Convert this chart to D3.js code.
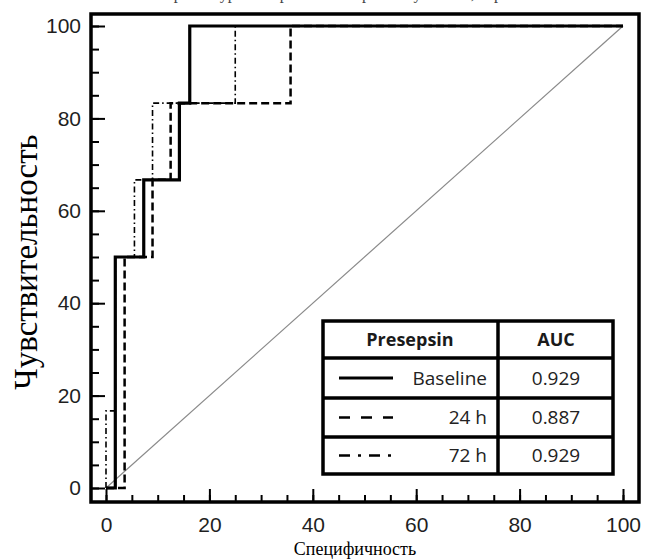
<!DOCTYPE html>
<html>
<head>
<meta charset="utf-8">
<script src="https://cdn.jsdelivr.net/npm/d3@7"></script>
<style>
  body { margin: 0; background: #fff; }
  svg { display: block; }
</style>
</head>
<body>
<svg id="chart"></svg>
<script>
// ROC data (x = 100 - specificity, y = sensitivity), step corners
var baselineX = [0, 1.8, 7.3, 14.2, 16.2, 100];
var baselineY = [0, 50, 66.7, 83.3, 100, 100];
var h24X = [0, 3.6, 9.0, 12.5, 35.7, 100];
var h24Y = [0, 50, 66.7, 83.3, 100, 100];
var h72X = [0, 0, 1.8, 5.5, 9.0, 25, 100];
var h72Y = [0, 16.7, 50, 66.7, 83.3, 100, 100];

var seriesNames = ["Baseline", "24 h", "72 h"];
var aucValues = ["0.929", "0.887", "0.929"];
var majorTicks = [0, 20, 40, 60, 80, 100];
var minorTicks = d3.range(0, 101, 5);

function init() {
    var width = 645, height = 559;
    var svg = d3.select("#chart")
        .attr("width", width)
        .attr("height", height);

    // frame box
    var frame = {left: 91, right: 639, top: 14, bottom: 502};

    // scales
    var x = d3.scaleLinear().domain([0, 100]).range([106, 623]);
    var y = d3.scaleLinear().domain([0, 100]).range([488, 26]);

    // caption above, cropped by the top edge in the source picture
    svg.append("text")
        .attr("x", 360)
        .attr("y", -1)
        .attr("text-anchor", "middle")
        .style("font-family", "'Liberation Serif', serif")
        .style("font-size", "16px")
        .style("fill", "#444")
        .text("ROC-кривые уровня пресепсина при поступлении, через 24 ч и 72 ч");

    // minor ticks
    svg.append("g")
        .attr("transform", "translate(0," + frame.bottom + ")")
        .call(d3.axisBottom(x).tickValues(minorTicks).tickSize(-7).tickFormat(""))
        .call(function(g) { g.select(".domain").remove(); })
        .selectAll("line").attr("stroke", "#000").attr("stroke-width", 2);
    svg.append("g")
        .attr("transform", "translate(" + frame.left + ",0)")
        .call(d3.axisLeft(y).tickValues(minorTicks).tickSize(-8).tickFormat(""))
        .call(function(g) { g.select(".domain").remove(); })
        .selectAll("line").attr("stroke", "#000").attr("stroke-width", 2);

    // major ticks + labels
    var xAxis = svg.append("g")
        .attr("transform", "translate(0," + frame.bottom + ")")
        .call(d3.axisBottom(x).tickValues(majorTicks).tickSize(-13).tickPadding(15));
    xAxis.select(".domain").remove();
    xAxis.selectAll("line").attr("stroke", "#000").attr("stroke-width", 2);
    xAxis.selectAll("text")
        .style("font-family", "'Liberation Sans', Arial, sans-serif")
        .style("font-size", "21px")
        .attr("fill", "#1f1f1f");

    var yAxis = svg.append("g")
        .attr("transform", "translate(" + frame.left + ",0)")
        .call(d3.axisLeft(y).tickValues(majorTicks).tickSize(-14).tickPadding(10));
    yAxis.select(".domain").remove();
    yAxis.selectAll("line").attr("stroke", "#000").attr("stroke-width", 2);
    yAxis.selectAll("text")
        .style("font-family", "'Liberation Sans', Arial, sans-serif")
        .style("font-size", "21px")
        .attr("fill", "#1f1f1f");

    // frame
    svg.append("rect")
        .attr("x", frame.left)
        .attr("y", frame.top)
        .attr("width", frame.right - frame.left)
        .attr("height", frame.bottom - frame.top)
        .attr("fill", "none")
        .attr("stroke", "#000")
        .attr("stroke-width", 3.5);

    // diagonal reference
    svg.append("line")
        .attr("x1", x(0)).attr("y1", y(0))
        .attr("x2", x(100)).attr("y2", y(100))
        .attr("stroke", "#8a8a8a")
        .attr("stroke-width", 1.2);

    var line = d3.line()
        .x(function(d) { return x(d[0]); })
        .y(function(d) { return y(d[1]); })
        .curve(d3.curveStepAfter);

    var series = [
        {xs: h72X, ys: h72Y, width: 1.6, dash: "6,3,1.5,3"},
        {xs: h24X, ys: h24Y, width: 2.5, dash: "8,4"},
        {xs: baselineX, ys: baselineY, width: 3.2, dash: null}
    ];

    series.forEach(function(s) {
        var pts = s.xs.map(function(v, i) { return [v, s.ys[i]]; });
        svg.append("path")
            .datum(pts)
            .attr("d", line)
            .attr("fill", "none")
            .attr("stroke", "#000")
            .attr("stroke-width", s.width)
            .attr("stroke-dasharray", s.dash);
    });

    // axis titles
    svg.append("text")
        .attr("transform", "translate(37,262) rotate(-90)")
        .attr("text-anchor", "middle")
        .style("font-family", "'Liberation Serif', serif")
        .style("font-size", "33px")
        .style("fill", "#000")
        .text("Чувствительность");

    svg.append("text")
        .attr("x", 355)
        .attr("y", 555)
        .attr("text-anchor", "middle")
        .style("font-family", "'Liberation Serif', serif")
        .style("font-size", "18px")
        .style("fill", "#000")
        .text("Специфичность");

    // legend table
    var tbl = {left: 323, right: 613, mid: 498, rows: [321, 358, 398, 437, 474]};
    var lg = svg.append("g");
    lg.append("rect")
        .attr("x", tbl.left).attr("y", tbl.rows[0])
        .attr("width", tbl.right - tbl.left)
        .attr("height", tbl.rows[4] - tbl.rows[0])
        .attr("fill", "#fff")
        .attr("stroke", "#000")
        .attr("stroke-width", 3.5);
    lg.append("line")
        .attr("x1", tbl.mid).attr("x2", tbl.mid)
        .attr("y1", tbl.rows[0]).attr("y2", tbl.rows[4])
        .attr("stroke", "#000").attr("stroke-width", 3.5);
    tbl.rows.slice(1, 4).forEach(function(r) {
        lg.append("line")
            .attr("x1", tbl.left).attr("x2", tbl.right)
            .attr("y1", r).attr("y2", r)
            .attr("stroke", "#000").attr("stroke-width", 3.5);
    });

    var font = "'Open Sans', 'Noto Sans', sans-serif";
    var headY = (tbl.rows[0] + tbl.rows[1]) / 2;
    lg.append("text")
        .attr("x", 410).attr("y", headY).attr("dy", "0.35em")
        .attr("text-anchor", "middle")
        .style("font-family", font).style("font-size", "18px").style("font-weight", "bold")
        .style("fill", "#1a1a1a")
        .text("Presepsin");
    lg.append("text")
        .attr("x", 556).attr("y", headY).attr("dy", "0.35em")
        .attr("text-anchor", "middle")
        .style("font-family", font).style("font-size", "18px").style("font-weight", "bold")
        .style("fill", "#1a1a1a")
        .text("AUC");

    var sampleDash = [null, "11,11", "11,8,3,8"];
    var sampleWidth = [3, 2.5, 2.5];
    seriesNames.forEach(function(name, i) {
        var cy = (tbl.rows[i + 1] + tbl.rows[i + 2]) / 2;
        lg.append("line")
            .attr("x1", 339).attr("x2", 393)
            .attr("y1", cy).attr("y2", cy)
            .attr("stroke", "#000")
            .attr("stroke-width", sampleWidth[i])
            .attr("stroke-dasharray", sampleDash[i]);
        lg.append("text")
            .attr("x", 487).attr("y", cy).attr("dy", "0.35em")
            .attr("text-anchor", "end")
            .style("font-family", font).style("font-size", "19px")
            .style("fill", "#222")
            .text(name);
        lg.append("text")
            .attr("x", 556).attr("y", cy).attr("dy", "0.35em")
            .attr("text-anchor", "middle")
            .style("font-family", font).style("font-size", "19px")
            .style("fill", "#222")
            .text(aucValues[i]);
    });
}
window.onload = init;
</script>
</body>
</html>
